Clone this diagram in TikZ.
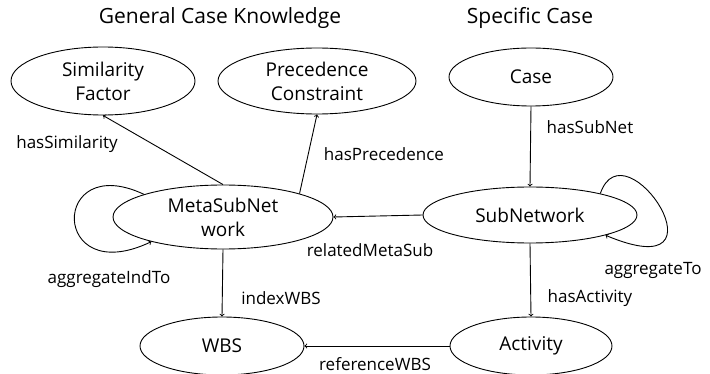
\documentclass[tikz,border=0pt]{standalone}
\usepackage{fontspec}
\setmainfont{Open Sans}
\usetikzlibrary{shapes.geometric}

\tikzset{
    concept/.style={draw, ellipse, inner sep=0pt, line width=0.9pt, align=center,
        font=\fontsize{19}{24}\selectfont},
    rel/.style={->, line width=0.9pt},
    rellabel/.style={font=\fontsize{17}{20}\selectfont},
    heading/.style={font=\fontsize{21}{24}\selectfont}
}

\begin{document}
\begin{tikzpicture}[x=1pt, y=-1pt]
    \useasboundingbox (0, 0) rectangle (710, 374);

    \node[heading] (general) at (220, 18) {General Case Knowledge};
    \node[heading] (specific) at (530, 18) {Specific Case};

    \node[concept, minimum width=184, minimum height=68] (sim) at (103, 81) {Similarity\\Factor};
    \node[concept, minimum width=198, minimum height=66] (prec) at (317, 81) {Precedence\\Constraint};
    \node[concept, minimum width=164, minimum height=58] (case) at (531, 77) {Case};
    \node[concept, minimum width=220, minimum height=64] (meta) at (223, 217) {MetaSubNet\\work};
    \node[concept, minimum width=214, minimum height=56] (sub) at (530, 215) {SubNetwork};
    \node[concept, minimum width=164, minimum height=58] (wbs) at (222, 346) {WBS};
    \node[concept, minimum width=162, minimum height=58] (act) at (531, 346) {Activity};

    \draw[rel] (meta.north) -- (sim.south);
    \draw[rel] (meta.17) -- (prec.south);
    \draw[rel] (case.south) -- (sub.north);
    \draw[rel] (sub.west) -- (meta.east);
    \draw[rel] (meta.south) -- (wbs.north);
    \draw[rel] (sub.south) -- (act.north);
    \draw[rel] (act.west) -- (wbs.east);
    \draw[rel] (meta.164) .. controls (50, 150) and (50, 290) .. (meta.199);
    \draw[rel] (sub.17) .. controls (625, 122) and (735, 290) .. (sub.-15);

    \node[rellabel] (lsim) at (67, 144) {hasSimilarity};
    \node[rellabel] (lprec) at (384, 154) {hasPrecedence};
    \node[rellabel] (lsubnet) at (590, 127) {hasSubNet};
    \node[rellabel] (lrelated) at (370, 250) {relatedMetaSub};
    \node[rellabel] (laggind) at (109, 279) {aggregateIndTo};
    \node[rellabel] (lindex) at (281, 298) {indexWBS};
    \node[rellabel] (lagg) at (653, 270) {aggregateTo};
    \node[rellabel] (lact) at (590, 298) {hasActivity};
    \node[rellabel] (lref) at (375, 364) {referenceWBS};
\end{tikzpicture}
\end{document}
